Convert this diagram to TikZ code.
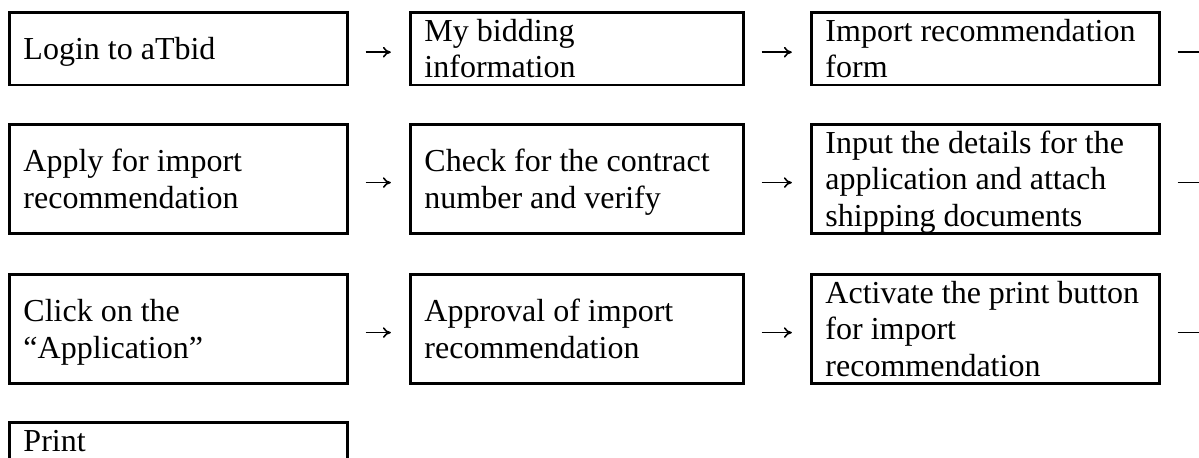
\documentclass[tikz,border=0pt]{standalone}
\usepackage{fontspec}
\setmainfont{Liberation Serif}
\usetikzlibrary{arrows.meta}
\newcommand{\wstrut}{\rule[-2.6pt]{0pt}{13.3pt}}
\begin{document}
\begin{tikzpicture}[x=0.375pt, y=-0.375pt,
    stage/.style={draw, line width=1.1pt, anchor=north west, align=flush left,
      inner xsep=5.25pt, inner ysep=0pt, font=\fontsize{12}{13.8}\selectfont,
      execute at begin node=\wstrut, execute at end node=\wstrut},
    colA/.style={text width=116.25pt},
    colB/.style={text width=114.375pt},
    colC/.style={text width=120pt},
    short/.style={minimum height=27.2pt},
    tall/.style={minimum height=41pt},
    flow/.style={-{To[length=3pt,width=4pt]}, line width=0.6pt, shorten <=6.3pt, shorten >=6.8pt}]
    \useasboundingbox (0,0) rectangle (1199,458);
    \path (8,11) node[stage,colA,short] (login) {Login to aTbid}
          (409,11) node[stage,colB,short] (bidinfo) {My bidding\\information}
          (810,11) node[stage,colC,short] (form) {Import recommendation\\form};
    \path (8,123) node[stage,colA,tall] (apply) {Apply for import\\recommendation}
          (409,123) node[stage,colB,tall] (check) {Check for the contract\\number and verify}
          (810,123) node[stage,colC,tall] (details) {Input the details for the\\application and attach\\shipping documents};
    \path (8,273) node[stage,colA,tall] (click) {Click on the\\“Application”}
          (409,273) node[stage,colB,tall] (approval) {Approval of import\\recommendation}
          (810,273) node[stage,colC,tall] (printbtn) {Activate the print button\\for import\\recommendation};
    \path (8,421) node[stage,colA,text depth=16.3pt] (print) {Print};
    \coordinate (out1) at ([xshift=25pt,yshift=-1.3pt]form.east);
    \coordinate (out2) at ([xshift=25pt,yshift=-1.3pt]details.east);
    \coordinate (out3) at ([xshift=25pt,yshift=-1.3pt]printbtn.east);
    \draw[flow] ([yshift=-1.3pt]login.east) -- ([yshift=-1.3pt]bidinfo.west);
    \draw[flow] ([yshift=-1.3pt]bidinfo.east) -- ([yshift=-1.3pt]form.west);
    \draw[flow] ([yshift=-1.3pt]form.east) -- (out1);
    \draw[flow] ([yshift=-1.3pt]apply.east) -- ([yshift=-1.3pt]check.west);
    \draw[flow] ([yshift=-1.3pt]check.east) -- ([yshift=-1.3pt]details.west);
    \draw[flow] ([yshift=-1.3pt]details.east) -- (out2);
    \draw[flow] ([yshift=-1.3pt]click.east) -- ([yshift=-1.3pt]approval.west);
    \draw[flow] ([yshift=-1.3pt]approval.east) -- ([yshift=-1.3pt]printbtn.west);
    \draw[flow] ([yshift=-1.3pt]printbtn.east) -- (out3);
\end{tikzpicture}
\end{document}
